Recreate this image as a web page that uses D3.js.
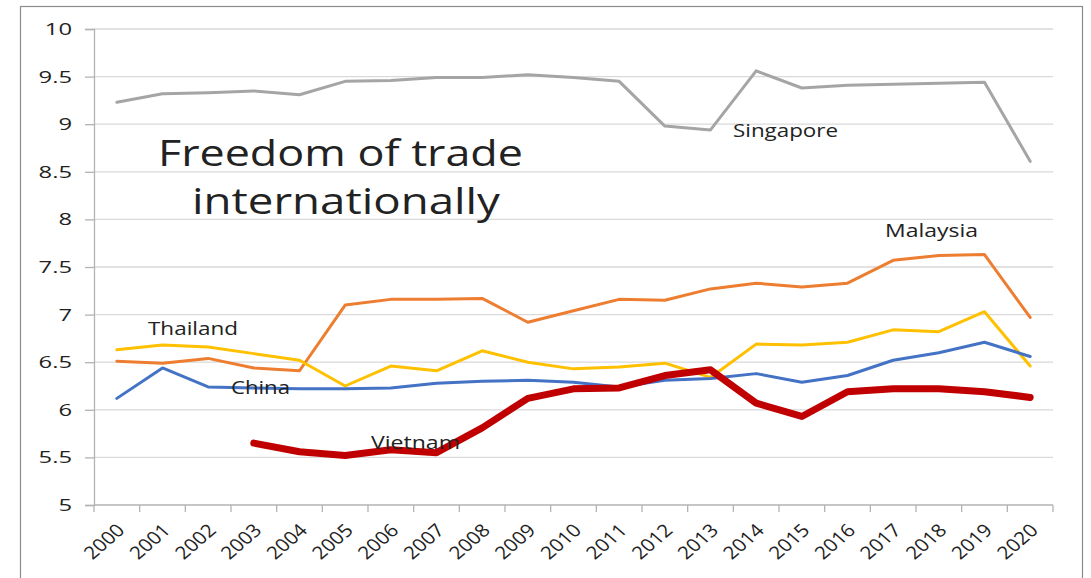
<!DOCTYPE html>
<html lang="en">
<head>
<meta charset="utf-8">
<title>Freedom of trade internationally</title>
<script src="https://d3js.org/d3.v7.min.js"></script>
<style>
  body { margin: 0; background: #fff; }
  text { font-family: "Open Sans", "Liberation Sans", sans-serif; fill: #222; }
</style>
</head>
<body>
<script>
var years = ["2000","2001","2002","2003","2004","2005","2006","2007","2008","2009","2010",
             "2011","2012","2013","2014","2015","2016","2017","2018","2019","2020"];
var yTicks = [5, 5.5, 6, 6.5, 7, 7.5, 8, 8.5, 9, 9.5, 10];

var singapore = [9.23, 9.32, 9.33, 9.35, 9.31, 9.45, 9.46, 9.49, 9.49, 9.52, 9.49,
                 9.45, 8.98, 8.94, 9.56, 9.38, 9.41, 9.42, 9.43, 9.44, 8.61];
var malaysia  = [6.51, 6.49, 6.54, 6.44, 6.41, 7.10, 7.16, 7.16, 7.17, 6.92, 7.04,
                 7.16, 7.15, 7.27, 7.33, 7.29, 7.33, 7.57, 7.62, 7.63, 6.97];
var thailand  = [6.63, 6.68, 6.66, 6.59, 6.52, 6.25, 6.46, 6.41, 6.62, 6.50, 6.43,
                 6.45, 6.49, 6.34, 6.69, 6.68, 6.71, 6.84, 6.82, 7.03, 6.46];
var china     = [6.12, 6.44, 6.24, 6.23, 6.22, 6.22, 6.23, 6.28, 6.30, 6.31, 6.29,
                 6.24, 6.31, 6.33, 6.38, 6.29, 6.36, 6.52, 6.60, 6.71, 6.56];
var vietnam   = [null, null, null, 5.65, 5.56, 5.52, 5.58, 5.55, 5.81, 6.12, 6.22,
                 6.23, 6.36, 6.42, 6.07, 5.93, 6.19, 6.22, 6.22, 6.19, 6.13];

var series = [
  {name: "Singapore", values: singapore, color: "#A5A5A5", width: 3},
  {name: "Malaysia",  values: malaysia,  color: "#ED7D31", width: 3},
  {name: "Thailand",  values: thailand,  color: "#FFC000", width: 3},
  {name: "China",     values: china,     color: "#4472C4", width: 3},
  {name: "Vietnam",   values: vietnam,   color: "#C00000", width: 7}
];

// label placement (text left x, baseline y, drawn width)
var labels = [
  {text: "Singapore", x: 733, y: 137, w: 105},
  {text: "Malaysia",  x: 885, y: 237, w: 93},
  {text: "Thailand",  x: 148, y: 335, w: 90},
  {text: "China",     x: 231, y: 394, w: 59},
  {text: "Vietnam",   x: 371, y: 449, w: 89}
];

var W = 1091, H = 578;
var plotLeft = 94, plotRight = 1053, plotTop = 29, plotBottom = 505;
var stretch = 1.4;

var svg = d3.select("body").append("svg")
  .attr("width", W).attr("height", H);

// chart frame
svg.append("rect")
  .attr("x", 20.5).attr("y", 6.5)
  .attr("width", 1062).attr("height", 620)
  .attr("fill", "none").attr("stroke", "#8c8c8c").attr("stroke-width", 1.2);

var x = d3.scaleBand().domain(years).range([plotLeft, plotRight]);
var y = d3.scaleLinear().domain([5, 10]).range([plotBottom, plotTop]);
var cx = function(i) { return x(years[i]) + x.bandwidth() / 2; };

// gridlines
svg.append("g").selectAll("line")
  .data(yTicks.slice(1))
  .enter().append("line")
  .attr("x1", plotLeft).attr("x2", plotRight)
  .attr("y1", function(d) { return y(d); })
  .attr("y2", function(d) { return y(d); })
  .attr("stroke", "#D9D9D9").attr("stroke-width", 1.3);

// y axis
var yAxis = svg.append("g")
  .attr("transform", "translate(" + plotLeft + ",0)")
  .call(d3.axisLeft(y).tickValues(yTicks).tickSize(9).tickFormat(d3.format("~g")));
yAxis.select(".domain").attr("stroke", "#B3B3B3").attr("stroke-width", 1.3);
yAxis.selectAll(".tick line").attr("stroke", "#B3B3B3").attr("stroke-width", 1.3);
yAxis.selectAll(".tick text")
  .attr("font-size", 17).attr("fill", "#222")
  .attr("font-family", "Open Sans")
  .attr("transform", "scale(" + stretch + ",1)")
  .attr("x", -22 / stretch);

// x axis line + boundary ticks
svg.append("line")
  .attr("x1", plotLeft).attr("x2", plotRight)
  .attr("y1", plotBottom).attr("y2", plotBottom)
  .attr("stroke", "#B3B3B3").attr("stroke-width", 1.3);
var bounds = years.map(function(d) { return x(d); }).concat([plotRight]);
svg.append("g").selectAll("line")
  .data(bounds)
  .enter().append("line")
  .attr("x1", function(d) { return d; }).attr("x2", function(d) { return d; })
  .attr("y1", plotBottom).attr("y2", plotBottom + 7)
  .attr("stroke", "#B3B3B3").attr("stroke-width", 1.3);

// x tick labels
svg.append("g").selectAll("g")
  .data(years)
  .enter().append("g")
  .attr("transform", function(d, i) {
    return "translate(" + (cx(i) + 4) + "," + (plotBottom + 22) + ") scale(1.15,1)";
  })
  .append("text")
  .attr("transform", "rotate(-45)")
  .attr("text-anchor", "end")
  .attr("dy", "0.35em")
  .attr("font-size", 18)
  .text(function(d) { return d; });

// lines
var line = d3.line()
  .defined(function(d) { return d != null; })
  .x(function(d, i) { return cx(i); })
  .y(function(d) { return y(d); });

svg.append("g").selectAll("path")
  .data(series)
  .enter().append("path")
  .attr("d", function(s) { return line(s.values); })
  .attr("fill", "none")
  .attr("stroke", function(s) { return s.color; })
  .attr("stroke-width", function(s) { return s.width; })
  .attr("stroke-linejoin", "round")
  .attr("stroke-linecap", "round");

// series labels
svg.append("g").selectAll("text")
  .data(labels)
  .enter().append("text")
  .attr("x", function(d) { return d.x; })
  .attr("y", function(d) { return d.y; })
  .attr("font-size", 18)
  .attr("textLength", function(d) { return d.w; })
  .attr("lengthAdjust", "spacingAndGlyphs")
  .text(function(d) { return d.text; });

// title
svg.append("text")
  .attr("x", 158).attr("y", 166)
  .attr("font-size", 36)
  .attr("textLength", 365).attr("lengthAdjust", "spacingAndGlyphs")
  .text("Freedom of trade");
svg.append("text")
  .attr("x", 192).attr("y", 214)
  .attr("font-size", 36)
  .attr("textLength", 308).attr("lengthAdjust", "spacingAndGlyphs")
  .text("internationally");
</script>
</body>
</html>
